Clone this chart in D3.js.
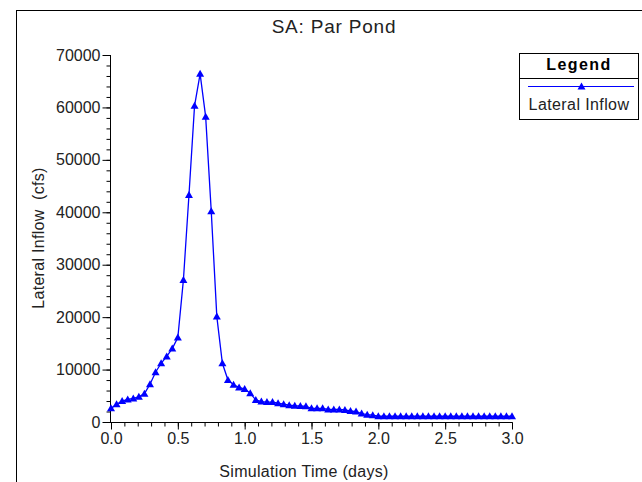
<!DOCTYPE html>
<html><head><meta charset="utf-8">
<script src="https://cdn.jsdelivr.net/npm/d3@7"></script>
<style>
html,body{margin:0;padding:0;background:#fff;}
svg{display:block;font-family:"Liberation Sans",Arial,sans-serif;}
</style></head>
<body>
<svg id="chart" width="642" height="482"></svg>
<script>
const title = "SA: Par Pond";
const xTitle = "Simulation Time (days)";
const yTitle = "Lateral Inflow  (cfs)";
const seriesName = "Lateral Inflow";
const timeDays = [0,0.0417,0.0833,0.125,0.1667,0.2083,0.25,0.2917,0.3333,0.375,0.4167,0.4583,0.5,0.5417,0.5833,0.625,0.6667,0.7083,0.75,0.7917,0.8333,0.875,0.9167,0.9583,1.0,1.0417,1.0833,1.125,1.1667,1.2083,1.25,1.2917,1.3333,1.375,1.4167,1.4583,1.5,1.5417,1.5833,1.625,1.6667,1.7083,1.75,1.7917,1.8333,1.875,1.9167,1.9583,2.0,2.0417,2.0833,2.125,2.1667,2.2083,2.25,2.2917,2.3333,2.375,2.4167,2.4583,2.5,2.5417,2.5833,2.625,2.6667,2.7083,2.75,2.7917,2.8333,2.875,2.9167,2.9583,3.0];
const inflow = [2600,3400,4000,4300,4500,4800,5400,7200,9500,11200,12500,14000,16100,27100,43300,60300,66400,58200,40200,20100,11200,8000,7100,6600,6300,5500,4200,3900,3800,3800,3600,3400,3200,3100,3050,3000,2600,2600,2600,2400,2400,2400,2300,2100,2000,1600,1400,1300,1100,1100,1100,1100,1100,1100,1100,1100,1100,1100,1100,1100,1100,1100,1100,1100,1100,1100,1100,1100,1100,1100,1100,1100,1100];
const xMajorTicks = [0,0.5,1.0,1.5,2.0,2.5,3.0];
const xTickLabels = ["0.0","0.5","1.0","1.5","2.0","2.5","3.0"];
const yMajorTicks = [0,10000,20000,30000,40000,50000,60000,70000];
const yTickLabels = ["0","10000","20000","30000","40000","50000","60000","70000"];

const svg = d3.select("#chart");
const x = d3.scaleLinear().domain([0,3]).range([111,512]);
const y = d3.scaleLinear().domain([0,70000]).range([422,55]);
const blue = "#0000ff";
const txt = "#222";

// outer frame
svg.append("rect").attr("x",16.5).attr("y",10.5).attr("width",800).attr("height",600)
  .attr("fill","none").attr("stroke","#000").attr("stroke-width",1);

// title
svg.append("text").attr("x",334).attr("y",33).attr("text-anchor","middle")
  .attr("font-size",19).attr("fill",txt).attr("letter-spacing","0.8px").text(title);

// x axis
const xMinor = d3.range(0,31).map(d=>d/10);
const gx = svg.append("g").attr("transform","translate(0,422.5)");
gx.append("g").call(d3.axisBottom(x).tickValues(xMinor).tickSize(4).tickFormat(""))
  .call(g=>g.select(".domain").remove());
gx.append("g").call(d3.axisBottom(x).tickValues(xMajorTicks).tickSize(7).tickPadding(3)
  .tickFormat((d,i)=>xTickLabels[i]))
  .call(g=>g.select(".domain").attr("d",`M${x(0)},0H${x(3)+0.5}`));
gx.selectAll("line,path").attr("stroke","#000");
gx.selectAll("text").attr("font-size",16).attr("fill",txt).attr("font-family","Liberation Sans, Arial, sans-serif");

// y axis
const yMinor = d3.range(0,36).map(d=>d*2000);
const gy = svg.append("g").attr("transform","translate(110.5,0)");
gy.append("g").call(d3.axisLeft(y).tickValues(yMinor).tickSize(4).tickFormat(""))
  .call(g=>g.select(".domain").remove());
gy.append("g").call(d3.axisLeft(y).tickValues(yMajorTicks).tickSize(8).tickPadding(2)
  .tickFormat((d,i)=>yTickLabels[i]))
  .call(g=>g.select(".domain").attr("d",`M0,${y(70000)}V${y(0)+1}`));
gy.selectAll("line,path").attr("stroke","#000");
gy.selectAll("text").attr("font-size",16).attr("fill",txt).attr("font-family","Liberation Sans, Arial, sans-serif");

// axis titles
svg.append("text").attr("x",304).attr("y",477).attr("text-anchor","middle")
  .attr("font-size",16).attr("fill",txt).attr("letter-spacing","0.3px").text(xTitle);
svg.append("text").attr("transform","translate(44,238) rotate(-90)").attr("text-anchor","middle")
  .attr("font-size",16).attr("fill",txt).attr("letter-spacing","0.3px").style("white-space","pre").text(yTitle);

// data
const pts = timeDays.map((t,i)=>({t, v: inflow[i]}));
const line = d3.line().x(d=>x(d.t)).y(d=>y(d.v));
svg.append("path").datum(pts).attr("d",line).attr("fill","none")
  .attr("stroke",blue).attr("stroke-width",1.3);
const tri = "M0,-4L4,3L-4,3Z";
svg.append("g").selectAll("path").data(pts).join("path")
  .attr("d",tri).attr("transform",d=>`translate(${x(d.t)},${y(d.v)})`).attr("fill",blue);

// legend
const lg = svg.append("g");
lg.append("rect").attr("x",519.5).attr("y",53.5).attr("width",119).attr("height",66)
  .attr("fill","#fff").attr("stroke","#000");
lg.append("line").attr("x1",519.5).attr("x2",638.5).attr("y1",78.5).attr("y2",78.5).attr("stroke","#000");
lg.append("text").attr("x",579).attr("y",70).attr("text-anchor","middle").attr("font-size",16)
  .attr("font-weight","bold").attr("letter-spacing","1.4px").attr("fill","#000").text("Legend");
lg.append("line").attr("x1",528).attr("x2",634).attr("y1",86.5).attr("y2",86.5).attr("stroke",blue).attr("stroke-width",1.2);
lg.append("path").attr("d",tri).attr("transform","translate(581.5,86.5)").attr("fill",blue);
lg.append("text").attr("x",579).attr("y",110).attr("text-anchor","middle").attr("font-size",16)
  .attr("fill",txt).attr("letter-spacing","0.4px").text(seriesName);
</script>
</body></html>
